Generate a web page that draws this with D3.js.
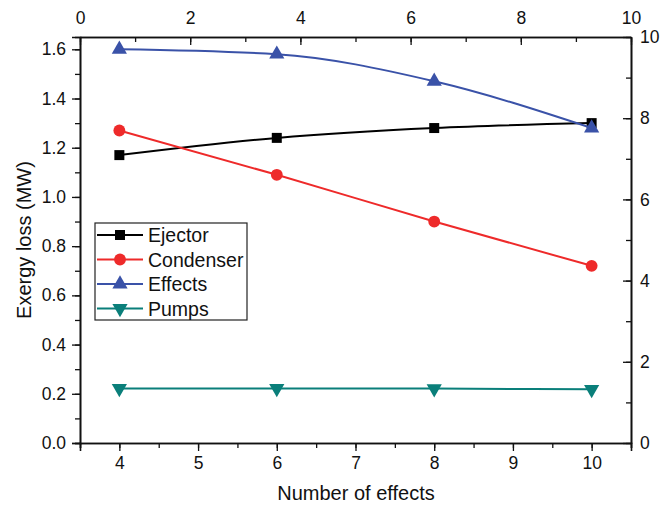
<!DOCTYPE html>
<html>
<head>
<meta charset="utf-8">
<script src="https://cdn.jsdelivr.net/npm/d3@7"></script>
<style>
  body { margin: 0; background: #fff; }
  svg text { font-family: Arial, "Liberation Sans", sans-serif; fill: #111; }
</style>
</head>
<body>
<svg id="chart" width="671" height="509"></svg>
<script>
// data
const effects = [4, 6, 8, 10];
const ejector = [1.17, 1.24, 1.28, 1.30];
const condenser = [1.27, 1.09, 0.90, 0.72];
const effectsLoss = [1.60, 1.58, 1.47, 1.28];
const pumps = [0.222, 0.222, 0.221, 0.218];

const seriesNames = ["Ejector", "Condenser", "Effects", "Pumps"];
const seriesValues = [ejector, condenser, effectsLoss, pumps];
const seriesColors = ["#000000", "#ee2a2a", "#3a52a8", "#0a7f7a"];
const seriesSymbols = [d3.symbolSquare, d3.symbolCircle, d3.symbolTriangle, "down"];

const leftTicks = [0, 0.2, 0.4, 0.6, 0.8, 1.0, 1.2, 1.4, 1.6];
const bottomTicks = [4, 5, 6, 7, 8, 9, 10];
const topTicks = [0, 2, 4, 6, 8, 10];
const rightTicks = [0, 2, 4, 6, 8, 10];

const margin = {left: 80, right: 40, top: 37, bottom: 66};
const width = 671, height = 509;

const svg = d3.select("#chart");

const x = d3.scaleLinear().domain([3.5, 10.5]).range([margin.left, width - margin.right]);
const y = d3.scaleLinear().domain([0, 1.65]).range([height - margin.bottom, margin.top]);
const xTop = d3.scaleLinear().domain([0, 10]).range([margin.left, width - margin.right]);
const yRight = d3.scaleLinear().domain([0, 10]).range([height - margin.bottom, margin.top]);

function styleAxis(g) {
    g.selectAll("path.domain").attr("stroke", "#111").attr("stroke-width", 1.6);
    g.selectAll(".tick line").attr("stroke", "#111").attr("stroke-width", 1.3);
    g.selectAll(".tick text").attr("font-size", 17.5).attr("fill", "#111");
}

// minor ticks first, majors on top
svg.append("g")
    .attr("transform", `translate(0,${height - margin.bottom})`)
    .call(d3.axisBottom(x).tickValues(d3.range(3.5, 10.51, 0.5)).tickSize(5).tickFormat(""))
    .call(styleAxis);
svg.append("g")
    .attr("transform", `translate(0,${height - margin.bottom})`)
    .call(d3.axisBottom(x).tickValues(bottomTicks).tickSize(8).tickPadding(6).tickFormat(d3.format("d")))
    .call(styleAxis);

svg.append("g")
    .attr("transform", `translate(${margin.left},0)`)
    .call(d3.axisLeft(y).tickValues(d3.range(0, 1.651, 0.1)).tickSize(5).tickFormat(""))
    .call(styleAxis);
svg.append("g")
    .attr("transform", `translate(${margin.left},0)`)
    .call(d3.axisLeft(y).tickValues(leftTicks).tickSize(8).tickPadding(6).tickFormat(d3.format(".1f")))
    .call(styleAxis);

svg.append("g")
    .attr("transform", `translate(0,${margin.top})`)
    .call(d3.axisTop(xTop).tickValues(d3.range(0, 10.1, 1)).tickSizeInner(-5).tickSizeOuter(0).tickFormat(""))
    .call(styleAxis);
svg.append("g")
    .attr("transform", `translate(0,${margin.top})`)
    .call(d3.axisTop(xTop).tickValues(topTicks).tickSizeInner(-8).tickSizeOuter(0).tickPadding(13).tickFormat(d3.format("d")))
    .call(styleAxis);

svg.append("g")
    .attr("transform", `translate(${width - margin.right},0)`)
    .call(d3.axisRight(yRight).tickValues(d3.range(0, 10.1, 1)).tickSizeInner(-5).tickSizeOuter(0).tickFormat(""))
    .call(styleAxis);
svg.append("g")
    .attr("transform", `translate(${width - margin.right},0)`)
    .call(d3.axisRight(yRight).tickValues(rightTicks).tickSizeInner(-8).tickSizeOuter(0).tickPadding(9).tickFormat(d3.format("d")))
    .call(styleAxis);

function markerPath(sym, size) {
    if (sym === "down") {
        return d3.symbol().type(d3.symbolTriangle).size(size)();
    }
    return d3.symbol().type(sym).size(size)();
}

const line = d3.line()
    .x((d, i) => x(effects[i]))
    .y(d => y(d))
    .curve(d3.curveMonotoneX);

seriesValues.forEach((vals, s) => {
    svg.append("path")
        .datum(vals)
        .attr("fill", "none")
        .attr("stroke", seriesColors[s])
        .attr("stroke-width", 2)
        .attr("d", line);

    svg.append("g").selectAll("path")
        .data(vals)
        .enter().append("path")
        .attr("d", markerPath(seriesSymbols[s], s === 1 ? 110 : 100))
        .attr("transform", (d, i) => `translate(${x(effects[i])},${y(d)})` + (seriesSymbols[s] === "down" ? " rotate(180)" : ""))
        .attr("fill", seriesColors[s]);
});

// legend
const legend = svg.append("g").attr("transform", "translate(95,223)");
legend.append("rect")
    .attr("width", 152).attr("height", 97)
    .attr("fill", "#fff").attr("stroke", "#222").attr("stroke-width", 1.2);
seriesNames.forEach((name, s) => {
    const ly = 12 + s * 24.5;
    legend.append("line")
        .attr("x1", 2).attr("x2", 48).attr("y1", ly).attr("y2", ly)
        .attr("stroke", seriesColors[s]).attr("stroke-width", 2);
    legend.append("path")
        .attr("d", markerPath(seriesSymbols[s], s === 1 ? 110 : 100))
        .attr("transform", `translate(25,${ly})` + (seriesSymbols[s] === "down" ? " rotate(180)" : ""))
        .attr("fill", seriesColors[s]);
    legend.append("text")
        .attr("x", 53).attr("y", ly + 7)
        .attr("font-size", 19.5)
        .text(name);
});

// axis titles
svg.append("text")
    .attr("x", 356)
    .attr("y", 500)
    .attr("text-anchor", "middle")
    .attr("font-size", 20)
    .text("Number of effects");

svg.append("text")
    .attr("transform", `translate(31,${(margin.top + height - margin.bottom) / 2}) rotate(-90)`)
    .attr("text-anchor", "middle")
    .attr("font-size", 20)
    .text("Exergy loss (MW)");
</script>
</body>
</html>
